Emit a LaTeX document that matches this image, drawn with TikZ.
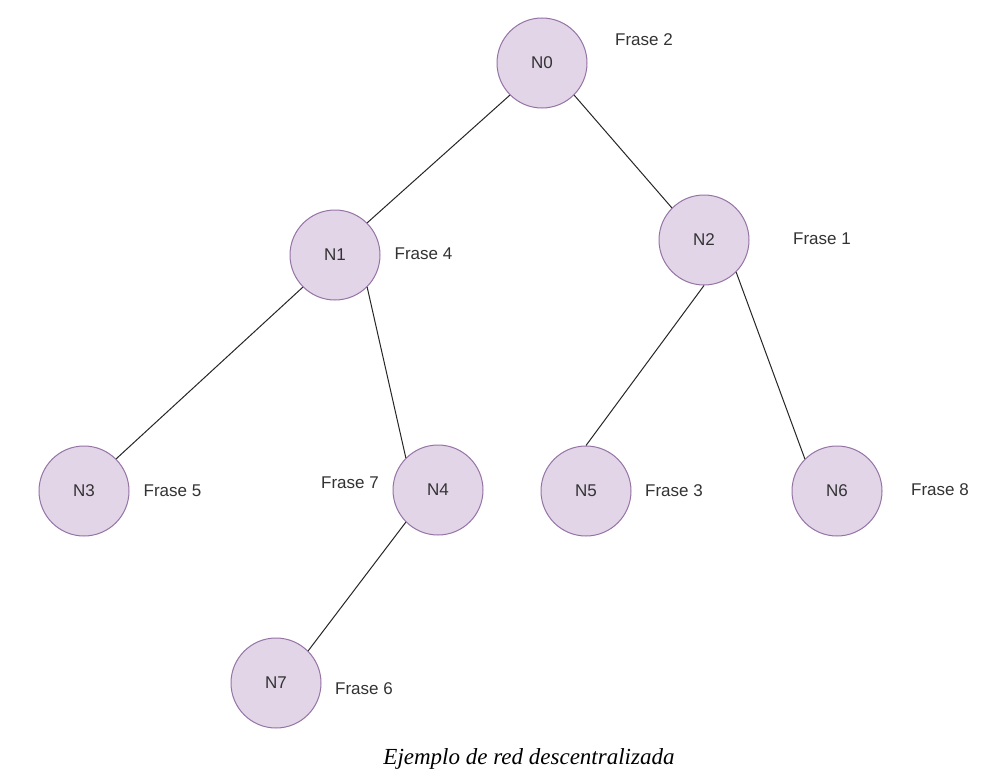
\documentclass[tikz,border=0pt]{standalone}
\usepackage{fontspec}
\setmainfont{Liberation Serif}
\setsansfont{Liberation Sans}
\definecolor{nodefill}{HTML}{E1D5E7}
\definecolor{nodeline}{HTML}{9673A6}
\definecolor{txt}{HTML}{333333}
\begin{document}
\begin{tikzpicture}[x=1pt,y=-1pt,
  treenode/.style={circle,draw=nodeline,fill=nodefill,line width=1pt,minimum size=90pt,inner sep=0pt,
    font=\sffamily\fontsize{17}{20}\selectfont,text=txt},
  phrase/.style={inner sep=0pt,font=\sffamily\fontsize{17}{20}\selectfont,text=txt},
  edge/.style={draw=black!85,line width=1pt}]
\useasboundingbox (0,0) rectangle (990,768);
\fill[white] (0,0) rectangle (990,768);
\node[treenode] (n0) at (542,63) {N0};
\node[treenode] (n1) at (335,255) {N1};
\node[treenode] (n2) at (704,240) {N2};
\node[treenode] (n3) at (84,491) {N3};
\node[treenode] (n4) at (438,490) {N4};
\node[treenode] (n5) at (586,491) {N5};
\node[treenode] (n6) at (837,491) {N6};
\node[treenode] (n7) at (276,683) {N7};
\node[phrase] (f2) at (644,40) {Frase 2};
\node[phrase] (f4) at (423.5,254) {Frase 4};
\node[phrase] (f1) at (822,239) {Frase 1};
\node[phrase] (f5) at (172.5,491) {Frase 5};
\node[phrase] (f7) at (350,483) {Frase 7};
\node[phrase] (f3) at (674,491) {Frase 3};
\node[phrase] (f8) at (940,490) {Frase 8};
\node[phrase] (f6) at (364,689) {Frase 6};
\draw[edge] (n0.south west) -- (n1.north east);
\draw[edge] (n0.south east) -- (n2.north west);
\draw[edge] (n1.south west) -- (n3.north east);
\draw[edge] (n1.south east) -- (n4.north west);
\draw[edge] (n2.south) -- (n5.north);
\draw[edge] (n2.south east) -- (n6.north west);
\draw[edge] (n4.south west) -- (n7.north east);
\node[anchor=base,inner sep=0pt,font=\fontsize{23}{27}\selectfont\itshape] (cap) at (529,764) {Ejemplo de red descentralizada};
\end{tikzpicture}
\end{document}
